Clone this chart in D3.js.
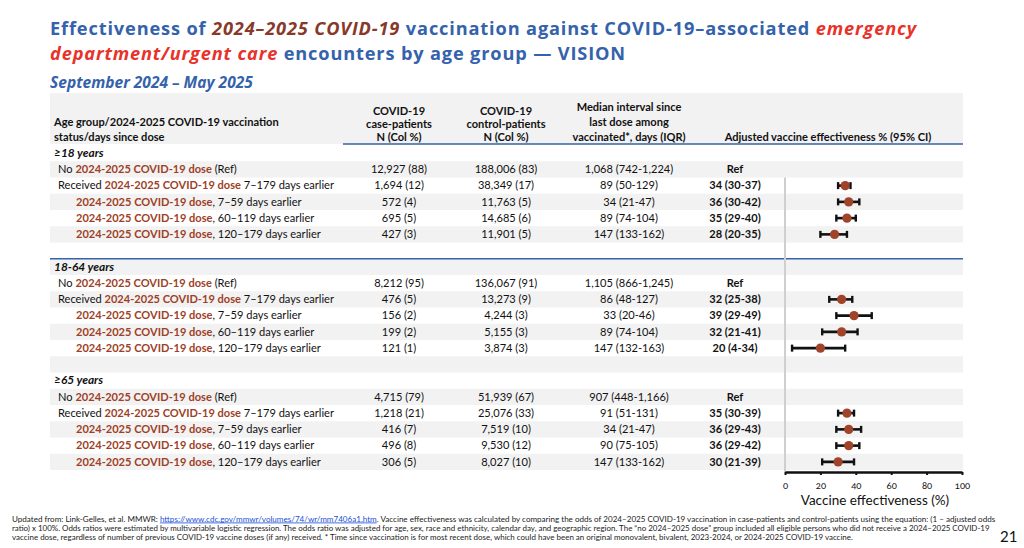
<!DOCTYPE html>
<html><head><meta charset="utf-8">
<script src="https://cdn.jsdelivr.net/npm/d3@7"></script>
<style>
html,body{margin:0;padding:0;background:#fff;}
svg{display:block;}
svg{font-family:Lato,"Open Sans",sans-serif;}
</style></head>
<body>
<svg id="c" width="1024" height="548"></svg>
<script>
// ---------- DATA ----------
const ageGroups = ["≥18 years", "18-64 years", "≥65 years"];
const doseLabel = "2024-2025 COVID-19 dose";
const rowTypes = ["ref", "received", "7–59", "60–119", "120–179"];
const casePatients = [
  ["12,927 (88)", "1,694 (12)", "572 (4)", "695 (5)", "427 (3)"],
  ["8,212 (95)", "476 (5)", "156 (2)", "199 (2)", "121 (1)"],
  ["4,715 (79)", "1,218 (21)", "416 (7)", "496 (8)", "306 (5)"]
];
const controlPatients = [
  ["188,006 (83)", "38,349 (17)", "11,763 (5)", "14,685 (6)", "11,901 (5)"],
  ["136,067 (91)", "13,273 (9)", "4,244 (3)", "5,155 (3)", "3,874 (3)"],
  ["51,939 (67)", "25,076 (33)", "7,519 (10)", "9,530 (12)", "8,027 (10)"]
];
const medianInterval = [
  ["1,068 (742-1,224)", "89 (50-129)", "34 (21-47)", "89 (74-104)", "147 (133-162)"],
  ["1,105 (866-1,245)", "86 (48-127)", "33 (20-46)", "89 (74-104)", "147 (132-163)"],
  ["907 (448-1,166)", "91 (51-131)", "34 (21-47)", "90 (75-105)", "147 (133-162)"]
];
const vePoint = [[34, 36, 35, 28], [32, 39, 32, 20], [35, 36, 36, 30]];
const veLow   = [[30, 30, 29, 20], [25, 29, 21, 4],  [30, 29, 29, 21]];
const veHigh  = [[37, 42, 40, 35], [38, 49, 41, 34], [39, 43, 42, 39]];
const axisTicks = [0, 20, 40, 60, 80, 100];

// ---------- STYLE ----------
const BLUE = "#3462ab", BROWN = "#87392a", RED = "#e8322a", DOSE = "#9e3f27", GRAY = "#f2f2f2";
const svg = d3.select("#c");

function fit(sel, target) {
  const w = sel.node().getComputedTextLength();
  const fs = parseFloat(sel.attr("font-size"));
  sel.attr("font-size", fs * target / w);
  return fs * target / w;
}
function fitSpacing(sel, target) {
  const w = sel.node().getComputedTextLength();
  const n = sel.text().length;
  sel.attr("letter-spacing", (target - w) / n);
}
function rich(g, x, y, parts, size, anchor) {
  const t = g.append("text").attr("x", x).attr("y", y).attr("font-size", size)
    .attr("text-anchor", anchor || "start");
  parts.forEach(p => {
    const s = t.append("tspan").text(p.t).attr("fill", p.c || "#111");
    if (p.b) s.attr("font-weight", "bold");
    if (p.i) s.attr("font-style", "italic");
  });
  return t;
}

// ---------- TITLE ----------
const titleFont = "'Open Sans', Lato, sans-serif";
const t1 = rich(svg, 50, 35, [
  {t: "Effectiveness of ", c: BLUE, b: 1},
  {t: "2024–2025 COVID-19", c: BROWN, b: 1, i: 1},
  {t: " vaccination against COVID-19–associated ", c: BLUE, b: 1},
  {t: "emergency", c: RED, b: 1, i: 1}], 18.2).style("font-family", titleFont);
fitSpacing(t1, 867);
const t2 = rich(svg, 50, 60, [
  {t: "department/urgent care", c: RED, b: 1, i: 1},
  {t: " encounters by age group — VISION", c: BLUE, b: 1}], 18.2).style("font-family", titleFont);
fitSpacing(t2, 576);
const t3 = rich(svg, 50, 88, [{t: "September 2024 – May 2025", c: BLUE, b: 1, i: 1}], 14).style("font-family", titleFont);
fit(t3, 203);

// ---------- TABLE LAYOUT ----------
const tableL = 50, tableR = 963;
const nRows = 20;
const y = d3.scaleBand().domain(d3.range(nRows)).range([145, 470]);
const rowH = y.bandwidth();
const xVE = d3.scaleLinear().domain([0, 100]).range([785, 962]);
const colCase = 399, colCtrl = 506, colMed = 629, colVE = 735;

// header background
svg.append("rect").attr("x", tableL).attr("y", 93).attr("width", tableR - tableL).attr("height", 51).attr("fill", GRAY);

// row backgrounds (alternating)
svg.append("g").selectAll("rect").data(d3.range(nRows).filter(i => i % 2 === 1)).join("rect")
  .attr("x", tableL).attr("y", i => y(i)).attr("width", tableR - tableL).attr("height", rowH).attr("fill", GRAY);

// header text
const hdr = svg.append("g").attr("font-weight", "bold").attr("fill", "#111");
const HFS = 10.6;
function htext(x, yy, s, anchor) {
  return hdr.append("text").attr("x", x).attr("y", yy).attr("font-size", HFS)
    .attr("font-weight", "bold").attr("text-anchor", anchor || "middle").text(s);
}
htext(54, 126, "Age group/2024-2025 COVID-19 vaccination", "start");
htext(54, 141, "status/days since dose", "start");
htext(colCase, 115, "COVID-19"); htext(colCase, 128, "case-patients"); htext(colCase, 141, "N (Col %)");
htext(colCtrl, 115, "COVID-19"); htext(colCtrl, 128, "control-patients"); htext(colCtrl, 141, "N (Col %)");
htext(colMed, 111, "Median interval since"); htext(colMed, 126, "last dose among"); htext(colMed, 141, "vaccinated*, days (IQR)");
htext(828, 141, "Adjusted vaccine effectiveness % (95% CI)");

// header underline & section separator
svg.append("line").attr("x1", 343).attr("x2", tableR).attr("y1", 144).attr("y2", 144)
  .attr("stroke", BLUE).attr("stroke-width", 1.5);
svg.append("line").attr("x1", tableL).attr("x2", tableR).attr("y1", y(7)).attr("y2", y(7))
  .attr("stroke", BLUE).attr("stroke-width", 1.5);

// body
const body = svg.append("g");
const FS = 10.6;
let probe = null;
ageGroups.forEach((grp, s) => {
  const base = s * 7;
  const cy = i => y(i) + rowH / 2 + 3.8;
  body.append("text").attr("x", 54).attr("y", cy(base)).attr("font-size", FS + 0.8)
    .attr("font-weight", "bold").attr("font-style", "italic").attr("fill", "#111").text(grp);
  rowTypes.forEach((rt, r) => {
    const ri = base + 1 + r;
    let parts, x;
    if (rt === "ref") { parts = [{t: "No "}, {t: doseLabel, c: DOSE, b: 1}, {t: " (Ref)"}]; x = 58; }
    else if (rt === "received") { parts = [{t: "Received "}, {t: doseLabel, c: DOSE, b: 1}, {t: " 7–179 days earlier"}]; x = 58; }
    else { parts = [{t: doseLabel, c: DOSE, b: 1}, {t: ", " + rt + " days earlier"}]; x = 76; }
    const lt = rich(body, x, cy(ri), parts, FS);
    if (rt === "received" && s === 0) probe = lt;
    body.append("text").attr("x", colCase).attr("y", cy(ri)).attr("font-size", FS).attr("text-anchor", "middle").attr("fill", "#111").text(casePatients[s][r]);
    body.append("text").attr("x", colCtrl).attr("y", cy(ri)).attr("font-size", FS).attr("text-anchor", "middle").attr("fill", "#111").text(controlPatients[s][r]);
    body.append("text").attr("x", colMed).attr("y", cy(ri)).attr("font-size", FS).attr("text-anchor", "middle").attr("fill", "#111").text(medianInterval[s][r]);
    const veTxt = r === 0 ? "Ref" : `${vePoint[s][r-1]} (${veLow[s][r-1]}-${veHigh[s][r-1]})`;
    body.append("text").attr("x", colVE).attr("y", cy(ri)).attr("font-size", FS).attr("font-weight", "bold").attr("text-anchor", "middle").attr("fill", "#111").text(veTxt);
  });
});

// ---------- FOREST PLOT ----------
svg.append("line").attr("x1", xVE(0)).attr("x2", xVE(0)).attr("y1", y(2)).attr("y2", 472)
  .attr("stroke", "#cfcfcf").attr("stroke-width", 2);

const est = [];
ageGroups.forEach((g, s) => vePoint[s].forEach((v, k) => est.push({row: s * 7 + 2 + k, v, lo: veLow[s][k], hi: veHigh[s][k]})));
const fp = svg.append("g");
const cyc = d => y(d.row) + rowH / 2;
fp.selectAll("line.ci").data(est).join("line").attr("class", "ci")
  .attr("x1", d => xVE(d.lo)).attr("x2", d => xVE(d.hi)).attr("y1", cyc).attr("y2", cyc)
  .attr("stroke", "#111").attr("stroke-width", 2.6);
["lo", "hi"].forEach(k => fp.selectAll("line.cap" + k).data(est).join("line")
  .attr("x1", d => xVE(d[k])).attr("x2", d => xVE(d[k]))
  .attr("y1", d => cyc(d) - 3.5).attr("y2", d => cyc(d) + 3.5)
  .attr("stroke", "#111").attr("stroke-width", 2.4));
fp.selectAll("circle").data(est).join("circle")
  .attr("cx", d => xVE(d.v)).attr("cy", cyc).attr("r", 4.6).attr("fill", "#a0432b");

// axis
const ax = svg.append("g").attr("transform", "translate(0,472)")
  .call(d3.axisBottom(xVE).tickValues(axisTicks).tickSize(3).tickSizeOuter(0).tickFormat(d3.format("d")));
ax.attr("font-family", null);
ax.select(".domain").attr("stroke", "#111").attr("stroke-width", 2.6);
ax.selectAll(".tick line").attr("stroke", "#111").attr("stroke-width", 2);
ax.selectAll(".tick text").attr("font-size", 9.5).attr("fill", "#111")
  .attr("y", 17).attr("dy", null).style("font-variant-numeric", "oldstyle-nums");
svg.append("text").attr("x", 875).attr("y", 505).attr("text-anchor", "middle").attr("font-size", 13.5)
  .attr("fill", "#111").text("Vaccine effectiveness (%)");

// ---------- FOOTNOTE ----------
const fn = svg.append("g").attr("fill", "#222");
const f1 = fn.append("text").attr("x", 12).attr("y", 521.5).attr("font-size", 7.5);
f1.append("tspan").text("Updated from: Link-Gelles, et al. MMWR: ");
f1.append("tspan").text("https://www.cdc.gov/mmwr/volumes/74/wr/mm7406a1.htm").attr("fill", "#1a4fd6").attr("text-decoration", "underline");
f1.append("tspan").text(". Vaccine effectiveness was calculated by comparing the odds of 2024–2025 COVID-19 vaccination in case-patients and control-patients using the equation: (1 – adjusted odds");
fit(f1, 985);
const f2 = fn.append("text").attr("x", 12).attr("y", 530.5).attr("font-size", 7.5)
  .text("ratio) x 100%. Odds ratios were estimated by multivariable logistic regression. The odds ratio was adjusted for age, sex, race and ethnicity, calendar day, and geographic region. The “no 2024–2025 dose” group included all eligible persons who did not receive a 2024–2025 COVID-19");
fit(f2, 980);
const f3 = fn.append("text").attr("x", 12).attr("y", 539.5).attr("font-size", 7.5)
  .text("vaccine dose, regardless of number of previous COVID-19 vaccine doses (if any) received.  * Time since vaccination is for most recent dose, which could have been an original monovalent, bivalent, 2023-2024, or 2024-2025 COVID-19 vaccine.");
fit(f3, 843);
svg.append("text").attr("x", 1000).attr("y", 542).attr("font-size", 15).attr("fill", "#111").text("21");

// fit table font to reference width of the "Received" label
if (probe) {
  const w = probe.node().getComputedTextLength();
  const k = 276 / w;
  if (Math.abs(k - 1) > 0.02) {
    body.selectAll("text").each(function() {
      const e = d3.select(this); e.attr("font-size", parseFloat(e.attr("font-size")) * k);
    });
    hdr.selectAll("text").each(function() {
      const e = d3.select(this); e.attr("font-size", parseFloat(e.attr("font-size")) * k);
    });
  }
}
</script>
</body></html>
